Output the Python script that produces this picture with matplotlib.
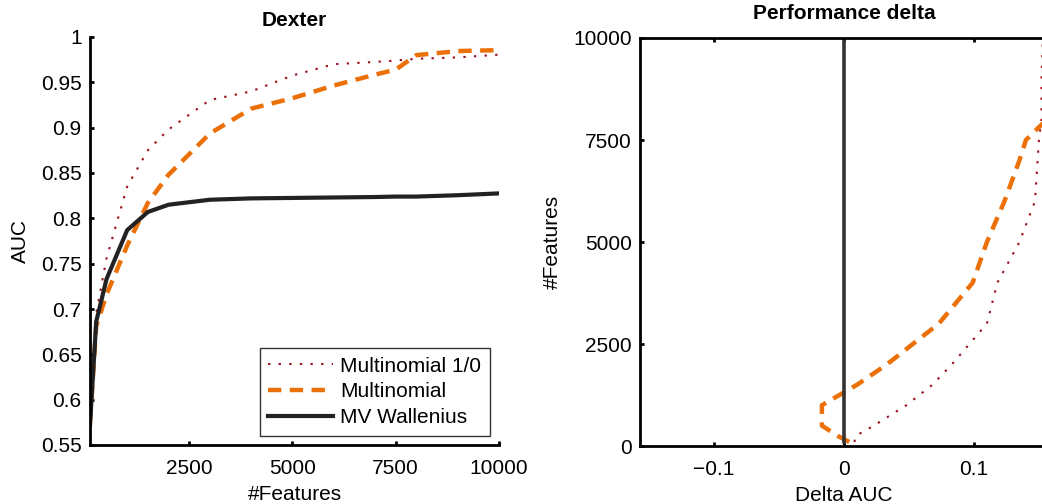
import matplotlib
matplotlib.use("Agg")
import matplotlib.pyplot as plt
from matplotlib.ticker import FuncFormatter
import numpy as np

plt.rcParams['font.family'] = ['Liberation Sans', 'DejaVu Sans']

# Data
features = [100, 250, 500, 1000, 1500, 2000, 3000, 4000, 5000, 6000, 7000, 7500, 8000, 9000, 10000]
auc_wallenius = [0.572, 0.686, 0.733, 0.787, 0.807, 0.815, 0.8205, 0.822, 0.8225, 0.823, 0.8235, 0.824, 0.824, 0.8255, 0.8275]
auc_multi10 = [0.580, 0.695, 0.756, 0.835, 0.875, 0.898, 0.9305, 0.940, 0.9575, 0.970, 0.9725, 0.974, 0.976, 0.9775, 0.9805]
auc_multi = [0.576, 0.681, 0.716, 0.770, 0.817, 0.848, 0.8935, 0.921, 0.9325, 0.9465, 0.9585, 0.964, 0.980, 0.9845, 0.9855]

left_yticks = [0.55, 0.6, 0.65, 0.7, 0.75, 0.8, 0.85, 0.9, 0.95, 1]
left_xticks = [2500, 5000, 7500, 10000]
right_xticks = [-0.1, 0, 0.1]
right_yticks = [0, 2500, 5000, 7500, 10000]

# Styles
c_dot = '#9b111e'
c_dash = '#ec7008'
c_solid = '#222222'
dot_style = dict(color=c_dot, lw=1.5, linestyle=(0, (1.1, 4.0)))
dash_style = dict(color=c_dash, lw=3.2, linestyle=(0, (3.0, 1.9)))
solid_style = dict(color=c_solid, lw=3.0)


def matlab_fmt(v, pos=None):
    return f"{v:g}".replace('-', '\u2212')


def style_axes(ax):
    for s in ax.spines.values():
        s.set_linewidth(2.0)
        s.set_color('black')
    ax.tick_params(direction='in', length=3, width=2, labelsize=15)
    ax.tick_params(axis='y', pad=6)
    ax.tick_params(axis='x', pad=10)


fig = plt.figure(figsize=(10.42, 5.04), dpi=100)

# Left panel: AUC vs number of features
ax1 = fig.add_axes([90 / 1042, 59 / 504, 409 / 1042, 408 / 504])
ax1.plot(features, auc_multi10, label='Multinomial 1/0', **dot_style)
ax1.plot(features, auc_multi, label='Multinomial', **dash_style)
ax1.plot(features, auc_wallenius, label='MV Wallenius', **solid_style)
ax1.set_xlim(100, 10000)
ax1.set_ylim(0.55, 1)
ax1.set_xticks(left_xticks)
ax1.set_yticks(left_yticks)
ax1.xaxis.set_major_formatter(FuncFormatter(matlab_fmt))
ax1.yaxis.set_major_formatter(FuncFormatter(matlab_fmt))
style_axes(ax1)
ax1.spines['top'].set_visible(False)
ax1.spines['right'].set_visible(False)
ax1.set_xlabel('#Features', fontsize=15, labelpad=5)
ax1.set_ylabel('AUC', fontsize=15, labelpad=8)
ax1.set_title('Dexter', fontsize=15, fontweight='bold', pad=8)
leg = ax1.legend(loc='lower right', fontsize=15, frameon=True, fancybox=False,
                 borderpad=0.4, handlelength=3.1, handletextpad=0.35,
                 labelspacing=0.33, borderaxespad=0.45)
leg.get_frame().set_edgecolor('black')
leg.get_frame().set_linewidth(1.0)

# Right panel: delta AUC relative to MV Wallenius
delta_multi10 = np.array(auc_multi10) - np.array(auc_wallenius)
delta_multi = np.array(auc_multi) - np.array(auc_wallenius)
delta_wallenius = np.array(auc_wallenius) - np.array(auc_wallenius)

ax2 = fig.add_axes([640 / 1042, 58 / 504, 408 / 1042, 408 / 504])
ax2.plot(delta_multi10, features, **dot_style)
ax2.plot(delta_multi, features, **dash_style)
ax2.plot(delta_wallenius, features, color='#333333', lw=2.6)
ax2.set_xlim(-0.157, 0.157)
ax2.set_ylim(0, 10000)
ax2.set_xticks(right_xticks)
ax2.set_yticks(right_yticks)
ax2.xaxis.set_major_formatter(FuncFormatter(matlab_fmt))
ax2.yaxis.set_major_formatter(FuncFormatter(matlab_fmt))
style_axes(ax2)
ax2.tick_params(top=True, right=True)
ax2.set_xlabel('Delta AUC', fontsize=15, labelpad=5)
ax2.set_ylabel('#Features', fontsize=15, labelpad=8)
ax2.set_title('Performance delta', fontsize=15, fontweight='bold', pad=14)

fig.savefig('out.png', dpi=100)
